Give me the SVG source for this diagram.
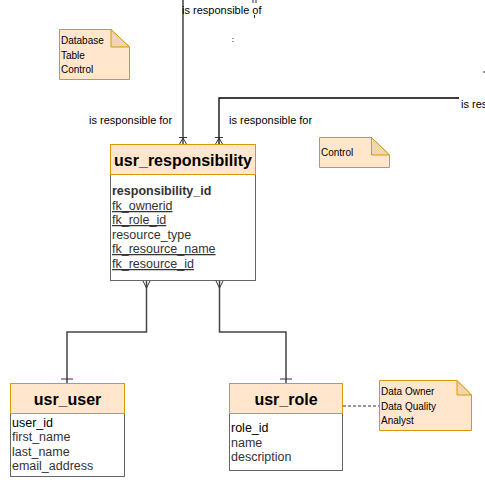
<svg xmlns="http://www.w3.org/2000/svg" width="485" height="487" viewBox="0 0 485 487">
<style>
.hdr{fill:#ffe6cc;stroke:#d79b00;stroke-width:1}
.body{fill:#ffffff;stroke:#666666;stroke-width:1}
.title{font-family:"Liberation Sans",Arial,sans-serif;font-size:16px;font-weight:bold;fill:#000;text-anchor:middle}
.fld{font-family:"Liberation Sans",Arial,sans-serif;font-size:12.5px;fill:#333}
.pk{font-weight:bold}
.fk{text-decoration:underline}
.lbl{font-family:"Liberation Sans",Arial,sans-serif;font-size:11px;fill:#000}
.note{fill:#ffe6cc;stroke:#d79b00;stroke-width:1}
.fold{fill:#f0d4b4;stroke:#d79b00;stroke-width:1}
.ntxt{font-family:"Liberation Sans",Arial,sans-serif;font-size:10px;fill:#000}
.conn{fill:none;stroke:#444;stroke-width:1.5}
.connb{fill:none;stroke:#000;stroke-width:1.3}
.mk{fill:none;stroke:#333;stroke-width:1}
</style>
<rect width="485" height="487" fill="#fff"/>
<g id="connectors">
  <path class="conn" d="M183,0 V145" stroke="#666"/>
  <path class="mk" d="M179,137.5 H187 M183,138 L179,145 M183,138 L187,145"/>
  <path class="conn" d="M183,174 V192"/>
  <path class="connb" d="M459,98 H219 V145"/>
  <path class="mk" d="M215,137.5 H223 M219,138 L215,145 M219,138 L223,145"/>
  <path class="conn" d="M146.5,280 V332 H67 V383"/>
  <path class="mk" d="M146.5,288 L142.5,280 M146.5,288 L150.5,280"/>
  <path class="mk" d="M61,379 H73"/>
  <path class="conn" d="M219.5,280 V332 H286 V383"/>
  <path class="mk" d="M219.5,288 L215.5,280 M219.5,288 L223.5,280"/>
  <path class="mk" d="M280,379 H292"/>
  <path d="M343,406 H379" fill="none" stroke="#333" stroke-width="1" stroke-dasharray="3,2"/>
  <path d="M253,0 V3 M256,0 V3 M254.5,15 V18 M233,38 V39 M233,41 V42 M484,71 V73" stroke="#333" stroke-width="1" fill="none"/>
</g>
<g id="labels">
  <text class="lbl" x="182" y="14">is responsible of</text>
  <text class="lbl" x="89" y="124">is responsible for</text>
  <text class="lbl" x="229" y="124">is responsible for</text>
  <text class="lbl" x="461" y="108">is res</text>
</g>
<g id="note-database">
  <path class="note" d="M59.5,29.5 H111 L129.5,47 V79.5 H59.5 Z"/>
  <path class="fold" d="M111,29.5 V47 H129.5 Z"/>
  <text class="ntxt" x="61" y="44">Database</text>
  <text class="ntxt" x="61" y="59">Table</text>
  <text class="ntxt" x="61" y="73">Control</text>
</g>
<g id="note-control">
  <path class="note" d="M319.5,137.5 H371.5 L389.5,155 V167.5 H319.5 Z"/>
  <path class="fold" d="M371.5,137.5 V155 H389.5 Z"/>
  <text class="ntxt" x="321" y="156">Control</text>
</g>
<g id="usr_responsibility">
  <rect class="body" x="110.5" y="174.5" width="145" height="106"/>
  <rect class="hdr" x="110.5" y="144.5" width="145" height="30"/>
  <text class="title" x="183" y="166">usr_responsibility</text>
  <text class="fld pk" x="112" y="195">responsibility_id</text>
  <text class="fld fk" x="112" y="210">fk_ownerid</text>
  <text class="fld fk" x="112" y="224">fk_role_id</text>
  <text class="fld" x="112" y="239">resource_type</text>
  <text class="fld fk" x="112" y="253">fk_resource_name</text>
  <text class="fld fk" x="112" y="268">fk_resource_id</text>
</g>
<g id="usr_user">
  <rect class="body" x="10.5" y="413.5" width="114" height="63"/>
  <rect class="hdr" x="10.5" y="383.5" width="114" height="30"/>
  <text class="title" x="67.5" y="405">usr_user</text>
  <text class="fld" x="12" y="427" style="fill:#000">user_id</text>
  <text class="fld" x="12" y="441">first_name</text>
  <text class="fld" x="12" y="456">last_name</text>
  <text class="fld" x="12" y="470">email_address</text>
</g>
<g id="usr_role">
  <rect class="body" x="229.5" y="413.5" width="113" height="57"/>
  <rect class="hdr" x="229.5" y="383.5" width="113" height="30"/>
  <text class="title" x="286" y="405">usr_role</text>
  <text class="fld" x="231" y="432" style="fill:#000">role_id</text>
  <text class="fld" x="231" y="447">name</text>
  <text class="fld" x="231" y="461">description</text>
</g>
<g id="note-roles">
  <path class="note" d="M379.5,380.5 H457 L471.5,395 V430.5 H379.5 Z"/>
  <path class="fold" d="M457,380.5 V395 H471.5 Z"/>
  <text class="ntxt" x="381" y="395">Data Owner</text>
  <text class="ntxt" x="381" y="410">Data Quality</text>
  <text class="ntxt" x="381" y="424">Analyst</text>
</g>
</svg>
